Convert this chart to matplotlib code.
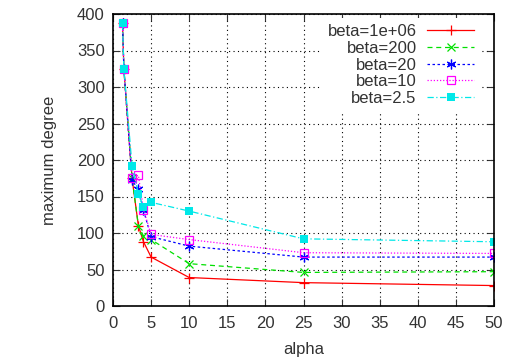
import matplotlib
matplotlib.use('Agg')
import matplotlib.pyplot as plt

plt.rcParams['font.family'] = ['Liberation Sans', 'DejaVu Sans']

# %% Data.
alpha = [1.25, 1.43, 2.5, 3.33, 4, 5, 10, 25, 50]
deg_b1e6 = [387, 324, 175, 110, 88, 67, 39, 32, 28]
deg_b200 = [387, 324, 175, 110, 96, 91, 58, 46, 47]
deg_b20 = [387, 324, 172, 160, 131, 95, 82, 67, 67]
deg_b10 = [387, 324, 176, 179, 132, 98, 91, 73, 72]
deg_b2_5 = [387, 324, 192, 154, 135, 142, 130, 92, 88]
labels = ['beta=1e+06', 'beta=200', 'beta=20', 'beta=10', 'beta=2.5']

series = [deg_b1e6, deg_b200, deg_b20, deg_b10, deg_b2_5]
styles = [
    dict(color='#ff0000', ls='-', marker='+', ms=7, mew=0.9),
    dict(color='#00e000', ls=(0, (4, 3)), marker='x', ms=6, mew=0.9),
    dict(color='#0000ff', ls=(0, (2, 2)), marker=(6, 2, 0), ms=7, mew=0.9),
    dict(color='#ff00ff', ls=(0, (1, 1.5)), marker='s', ms=5.5, mew=0.9, mfc='none'),
    dict(color='#00e8e8', ls=(0, (5, 2, 1, 2)), marker='s', ms=6, mew=0),
]

fig = plt.figure(figsize=(5.17, 3.59), dpi=100)
ax = fig.add_axes([113 / 517, 1 - 306 / 359, 381 / 517, 292 / 359])

for ys, lab, st in zip(series, labels, styles):
    ax.plot(alpha, ys, label=lab, lw=0.9, **st)

ax.set_xlim(0, 50)
ax.set_ylim(0, 400)
ax.set_xticks(range(0, 51, 5))
ax.set_yticks(range(0, 401, 50))
ax.tick_params(direction='in', top=True, right=True, length=5, labelsize=12,
               colors='#333333', labelcolor='#333333')
ax.tick_params(axis='x', pad=7)
ax.tick_params(axis='y', pad=6)
for sp in ax.spines.values():
    sp.set_linewidth(1.2)
ax.grid(True, color='black', ls=(0, (1, 3)), lw=0.8)

ax.set_xlabel('alpha', fontsize=12, color='#333333', labelpad=8)
ax.set_ylabel('maximum degree', fontsize=12, color='#333333', labelpad=14)

leg = ax.legend(loc='upper right', bbox_to_anchor=(0.963, 0.985), frameon=True,
                facecolor='white', edgecolor='none', framealpha=1, fancybox=False,
                markerfirst=False, fontsize=12, handlelength=2.8, borderpad=0.35,
                labelspacing=0.1, handletextpad=0.65, borderaxespad=0)
for t in leg.get_texts():
    t.set_color('#333333')

fig.savefig('out.png', dpi=100)
